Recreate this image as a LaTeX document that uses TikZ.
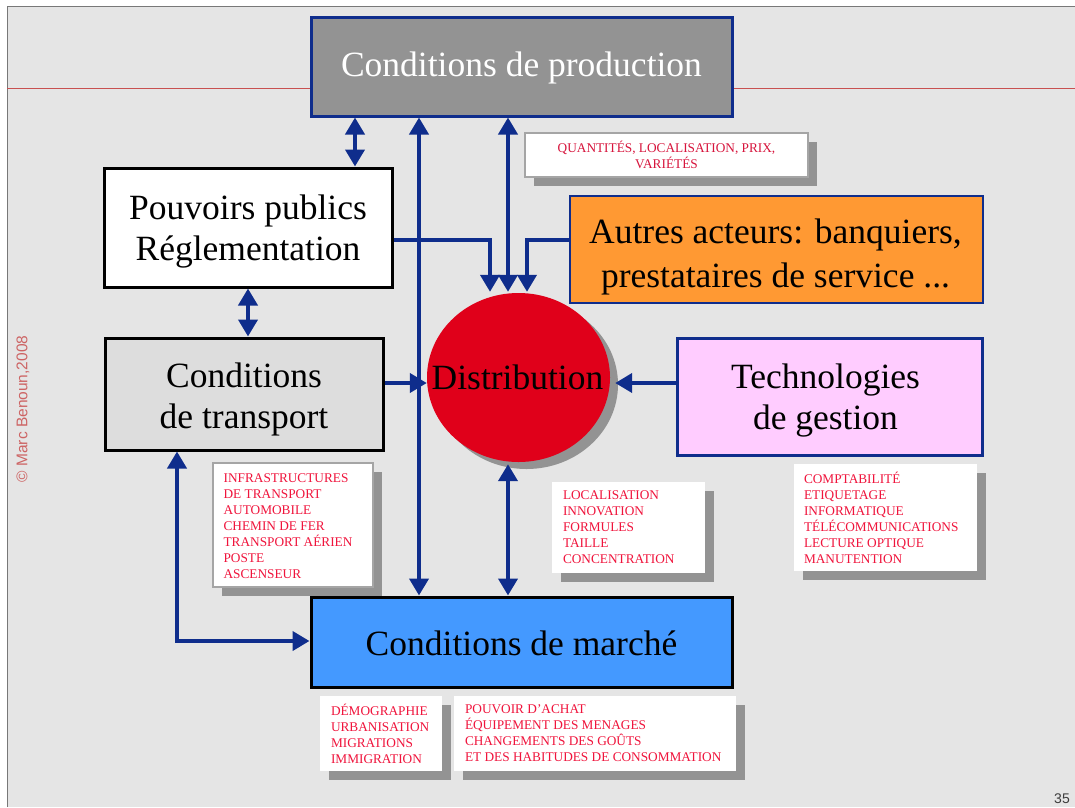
\documentclass[tikz,border=0pt]{standalone}
\usepackage{fontspec}
\setmainfont{Liberation Serif}
\newfontfamily\arialf{Liberation Sans}
\usetikzlibrary{arrows.meta,shapes.geometric,shadows,calc}
\definecolor{bgg}{RGB}{229,229,229}
\definecolor{framegray}{RGB}{120,120,120}
\definecolor{redline}{RGB}{200,80,80}
\definecolor{arrblue}{RGB}{15,45,140}
\definecolor{prodgray}{RGB}{147,147,147}
\definecolor{transgray}{RGB}{221,221,221}
\definecolor{orangef}{RGB}{255,153,51}
\definecolor{pinkf}{RGB}{255,204,255}
\definecolor{marchblue}{RGB}{68,153,255}
\definecolor{distred}{RGB}{224,0,26}
\definecolor{shgray}{RGB}{147,147,147}
\definecolor{notegray}{RGB}{165,165,165}
\definecolor{redtxt}{RGB}{240,20,60}
\definecolor{redtxtb}{RGB}{215,20,60}
\definecolor{copyred}{RGB}{205,100,100}
\definecolor{pagegray}{RGB}{60,60,60}
\hyphenpenalty=10000
\exhyphenpenalty=10000
\tikzset{
  bigtext/.style={font=\fontsize{35.5}{41}\selectfont, align=center, inner sep=0pt},
  bigbox/.style={rectangle, line width=3pt, inner sep=0pt},
  smalltext/.style={font=\fontsize{13.3}{16}\selectfont, text=redtxt, inner sep=0pt},
  notebox/.style={rectangle, fill=white, inner sep=0pt,
    general shadow={fill=shgray, shadow xshift=9pt, shadow yshift=-9pt}},
  tip/.tip={Triangle[width=19pt,length=17pt]},
  arr/.style={draw=arrblue, line width=4pt, -tip},
  darr/.style={draw=arrblue, line width=4pt, tip-tip},
}
\begin{document}
\begin{tikzpicture}[x=1pt,y=-1pt]
\useasboundingbox (0,0) rectangle (1075,807);
% background
\fill[white] (0,0) rectangle (1075,807);
\fill[bgg] (7,6) rectangle (1075,807);
\draw[framegray, line width=1pt] (7,807) -- (7,6) -- (1075,6);
\draw[redline, line width=1pt] (7,88) -- (1075,88);

% helper coordinates for connector positions
\coordinate (xa) at (355,0);
\coordinate (xb) at (419,0);
\coordinate (xc) at (508,0);
\coordinate (xd) at (490,0);
\coordinate (xe) at (527,0);
\coordinate (xf) at (248,0);
\coordinate (xg) at (177,0);
\coordinate (ya) at (0,240);
\coordinate (yb) at (0,383);
\coordinate (yc) at (0,641);

% main boxes
\node[bigbox, fill=prodgray, draw=arrblue, minimum width=421pt, minimum height=99pt] (prod) at (521.5,66.5) {};
\node[bigtext, text=white] (prodt) at ($(prod.center)+(0,1)$) {Conditions de production};

\node[bigbox, fill=white, draw=black, minimum width=288pt, minimum height=119pt] (pouv) at (248,227.5) {};
\node[bigtext] (pouvt) at ($(pouv.center)+(0,4)$) {Pouvoirs publics\\Réglementation};

\node[bigbox, fill=transgray, draw=black, minimum width=278pt, minimum height=112pt] (trans) at (244,394) {};
\node[bigtext] (transt) at ($(trans.center)+(0,5)$) {Conditions\\de transport};

\node[bigbox, fill=orangef, draw=arrblue, line width=2.5pt, minimum width=413pt, minimum height=107pt] (autres) at (776.5,249.5) {};
\node[bigtext, font=\fontsize{35.5}{44}\selectfont] (autrest) at ($(autres.center)+(-1,7)$) {Autres acteurs: banquiers,\\prestataires de service ...};

\node[bigbox, fill=pinkf, draw=arrblue, minimum width=305pt, minimum height=117pt] (tech) at (829.5,396.5) {};
\node[bigtext] (techt) at ($(tech.center)+(-4,4)$) {Technologies\\de gestion};

\node[bigbox, fill=marchblue, draw=black, minimum width=421pt, minimum height=90pt] (march) at (521.5,642) {};
\node[bigtext] (marcht) at ($(march.center)+(0,1)$) {Conditions de marché};

\node[ellipse, fill=distred, minimum width=183pt, minimum height=169pt, inner sep=0pt,
  general shadow={fill=shgray, shadow xshift=8pt, shadow yshift=-7pt}] (dist) at (518.5,377.5) {};
\node[bigtext] (distt) at ($(dist.center)+(-1,0)$) {Distribution};

% note boxes
\node[notebox, draw=notegray, line width=1.2pt, minimum width=283pt, minimum height=44pt] (quant) at (666.5,155) {};
\node[smalltext, text=redtxtb, align=center] (quantt) at (quant.center) {QUANTITÉS, LOCALISATION, PRIX,\\VARIÉTÉS};

\node[notebox, draw=notegray, line width=1.2pt, minimum width=160pt, minimum height=124pt] (infra) at (293,525) {};
\node[smalltext, anchor=west, align=left] (infrat) at ($(infra.west)+(11,1)$) {INFRASTRUCTURES\\DE TRANSPORT\\AUTOMOBILE\\CHEMIN DE FER\\TRANSPORT AÉRIEN\\POSTE\\ASCENSEUR};

\node[notebox, minimum width=153pt, minimum height=91pt] (loc) at (628.5,527.5) {};
\node[smalltext, anchor=west, align=left] (loct) at ($(loc.west)+(11,0)$) {LOCALISATION\\INNOVATION\\FORMULES\\TAILLE\\CONCENTRATION};

\node[notebox, minimum width=183pt, minimum height=107pt] (compt) at (885.5,517.5) {};
\node[smalltext, anchor=west, align=left] (comptt) at ($(compt.west)+(10,0)$) {COMPTABILITÉ\\ETIQUETAGE\\INFORMATIQUE\\TÉLÉCOMMUNICATIONS\\LECTURE OPTIQUE\\MANUTENTION};

\node[notebox, minimum width=122pt, minimum height=75pt] (demo) at (381,733.5) {};
\node[smalltext, anchor=west, align=left] (demot) at ($(demo.west)+(11,0)$) {DÉMOGRAPHIE\\URBANISATION\\MIGRATIONS\\IMMIGRATION};

\node[notebox, minimum width=282pt, minimum height=75pt] (achat) at (595,733.5) {};
\node[smalltext, anchor=west, align=left] (achatt) at ($(achat.west)+(11,0)$) {POUVOIR D’ACHAT\\ÉQUIPEMENT DES MENAGES\\CHANGEMENTS DES GOÛTS\\ET DES HABITUDES DE CONSOMMATION};

% connectors
\draw[darr] (pouv.north -| xa) -- (prod.south -| xa);
\draw[darr] (prod.south -| xb) -- (march.north -| xb);
\draw[darr] (prod.south -| xc) -- ($(dist.north -| xc)+(0,-1)$);
\draw[arr] (pouv.east |- ya) -| ($(dist.north -| xd)+(0,-1)$);
\draw[arr] (autres.west |- ya) -| ($(dist.north -| xe)+(0,-1)$);
\draw[arr] (trans.east |- yb) -- (dist.west |- yb);
\draw[arr] (tech.west |- yb) -- ($(dist.east |- yb)+(5,0)$);
\draw[darr] ($(dist.south -| xc)+(0,2)$) -- (march.north -| xc);
\draw[darr] (pouv.south -| xf) -- (trans.north -| xf);
\draw[darr] (trans.south -| xg) |- (march.west |- yc);

% side texts
\node[rotate=90, font=\arialf\fontsize{15.5}{18}\selectfont, text=copyred, inner sep=0pt] (copy) at (23,409) {© Marc Benoun,2008};
\node[font=\arialf\fontsize{14}{16}\selectfont, text=pagegray, inner sep=0pt] (pnum) at (1062,799) {35};
\end{tikzpicture}
\end{document}
